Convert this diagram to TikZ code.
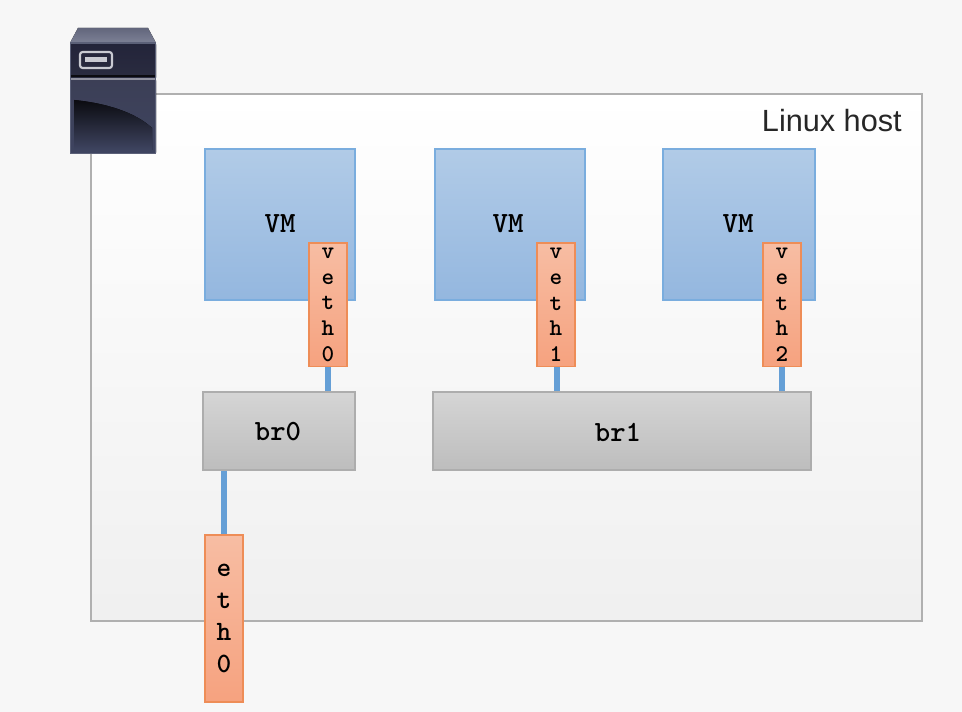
\documentclass[tikz,border=0pt]{standalone}
\usepackage{fontspec}
\setmainfont{Liberation Sans}
\definecolor{pagebg}{HTML}{F7F7F7}
\definecolor{hostline}{HTML}{B0B0B0}
\definecolor{vmline}{HTML}{7AADDE}
\definecolor{vmtop}{HTML}{B1CBE7}
\definecolor{vmbot}{HTML}{94B7DF}
\definecolor{tagline}{HTML}{EE8D57}
\definecolor{tagtop}{HTML}{F7BDA3}
\definecolor{tagbot}{HTML}{F6A27F}
\definecolor{brline}{HTML}{ADADAD}
\definecolor{brtop}{HTML}{D5D5D5}
\definecolor{brbot}{HTML}{BDBDBD}
\definecolor{wire}{HTML}{659FD6}
\definecolor{srvtopa}{HTML}{62667C}
\definecolor{srvtopb}{HTML}{7D8196}
\definecolor{srvupa}{HTML}{2A2C40}
\definecolor{srvupb}{HTML}{23243A}
\definecolor{srvlowa}{HTML}{3C3F56}
\definecolor{srvlowb}{HTML}{3E4460}
\definecolor{srvdark}{HTML}{0B0B10}
\definecolor{srvlight}{HTML}{C9CAD2}
\tikzset{
  x=0.75pt,y=-0.75pt,
  box/.style={rectangle,inner sep=0pt,line width=1.4pt,anchor=north west},
  vmbox/.style={box,draw=vmline,top color=vmtop,bottom color=vmbot,minimum width=112pt,minimum height=113.2pt},
  brbox/.style={box,draw=brline,top color=brtop,bottom color=brbot,minimum height=58.4pt},
  tagbox/.style={box,draw=tagline,top color=tagtop,bottom color=tagbot,align=center,text=black},
  smalltag/.style={tagbox,minimum width=28pt,minimum height=92.4pt,font=\ttfamily\bfseries\fontsize{18}{19.3}\selectfont},
  bigtag/.style={tagbox,minimum width=28pt,minimum height=125.2pt,font=\ttfamily\bfseries\fontsize{21}{24}\selectfont},
  tagtext/.style={font=\ttfamily\bfseries\fontsize{22}{24}\selectfont,text=black},
  wireline/.style={draw=wire,line width=4.4pt},
}
\begin{document}
\begin{tikzpicture}
\useasboundingbox (0,0) rectangle (962,712);
\fill[pagebg] (0,0) rectangle (962,712);

% host
\node[box,draw=hostline,top color=white,bottom color=white!94!black,minimum width=623pt,minimum height=395.5pt] (host) at (90.3,92.8) {};
\node[anchor=north east,inner sep=0pt,font=\fontsize{23}{26}\selectfont,text=black!85] (hostlabel) at (902,109) {Linux host};

% server icon
\fill[top color=srvtopa,bottom color=srvtopb] (78,28) -- (148,28) -- (156,43) -- (70,43) -- cycle;
\fill[top color=srvupb,bottom color=srvupa,rounded corners=1pt] (70,43) rectangle (156,79);
\fill[top color=srvlowa,bottom color=srvlowb,rounded corners=1pt] (70,79) rectangle (156,154);
\fill[top color=srvdark,bottom color=srvlowb] (74,100) .. controls (105,103) and (135,112) .. (152,128) -- (152,150) -- (74,150) -- cycle;
\draw[srvdark,line width=1.5pt] (70,76) -- (156,76);
\draw[srvlight!60!srvlowa,line width=0.9pt] (70,79) -- (156,79);
\draw[srvlowb!85!white,line width=0.8pt] (70.5,43) rectangle (155.5,153.5);
\draw[srvlight,line width=1.6pt,rounded corners=2pt] (80,52) rectangle (112,68);
\fill[srvlight] (85,57.5) rectangle (107,62.5);

% VMs
\node[vmbox] (vm0) at (204.3,148.3) {};
\node[vmbox] (vm1) at (434.3,148.3) {};
\node[vmbox,minimum width=114pt] (vm2) at (662.3,148.3) {};
\node[tagtext] (vm0label) at (280,224) {VM};
\node[tagtext] (vm1label) at (508,224) {VM};
\node[tagtext] (vm2label) at (738,224) {VM};

% bridges
\node[brbox,minimum width=114pt] (br0) at (202.3,391.3) {};
\node[brbox,minimum width=283.5pt] (br1) at (432.3,391.3) {};
\node[tagtext] (br0label) at (278,432) {br0};
\node[tagtext] (br1label) at (618,432) {br1};

% interfaces
\node[smalltag] (veth0) at (308.3,242.3) {v\\e\\t\\h\\0};
\node[smalltag] (veth1) at (536.3,242.3) {v\\e\\t\\h\\1};
\node[smalltag] (veth2) at (762.3,242.3) {v\\e\\t\\h\\2};
\node[bigtag] (eth0) at (204.3,534.3) {e\\t\\h\\0};

% wires
\draw[wireline] (veth0.south) -- (veth0.south |- br0.north);
\draw[wireline] ([xshift=0.75pt]veth1.south) -- ([xshift=0.75pt]veth1.south |- br1.north);
\draw[wireline] (veth2.south) -- (veth2.south |- br1.north);
\draw[wireline] (eth0.north) -- (eth0.north |- br0.south);
\end{tikzpicture}
\end{document}
